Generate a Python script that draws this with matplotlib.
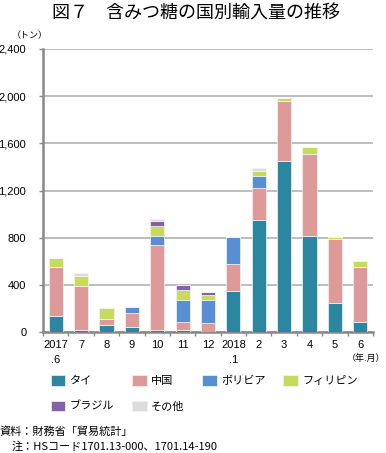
import matplotlib
matplotlib.use("Agg")
import matplotlib.pyplot as plt
import numpy as np

plt.rcParams['font.family'] = ['Noto Sans CJK JP', 'DejaVu Sans']

months = ["2017\n.6", "7", "8", "9", "10", "11", "12", "2018\n.1", "2", "3", "4", "5", "6"]
series_names = ["タイ", "中国", "ボリビア", "フィリピン", "ブラジル", "その他"]
thai        = [135, 20, 58, 42, 20, 20, 0, 348, 950, 1450, 814, 246, 85]
china       = [415, 372, 55, 116, 718, 62, 74, 232, 274, 509, 696, 540, 469]
bolivia     = [0, 0, 0, 54, 76, 187, 195, 229, 102, 0, 0, 0, 0]
philippines = [75, 85, 88, 0, 88, 90, 45, 0, 37, 26, 57, 17, 51]
brazil      = [0, 0, 0, 0, 37, 39, 22, 0, 0, 0, 0, 0, 0]
others      = [0, 20, 0, 0, 17, 0, 0, 0, 25, 0, 0, 0, 0]
yticks = [0, 400, 800, 1200, 1600, 2000, 2400]
ytick_labels = ["0", "400", "800", "1,200", "1,600", "2,000", "2,400"]

colors = ["#2B87A0", "#DD9A99", "#5A8ED2", "#C6DA5E", "#8462AB", "#DCDCDC"]

fig = plt.figure(figsize=(3.86, 4.53), dpi=100)
ax = fig.add_axes([43/386, 1-332/453, 330/386, 283/453])

data = [thai, china, bolivia, philippines, brazil, others]
x = np.arange(len(months))
bottom = np.zeros(len(months))
handles = []
for name, vals, c in zip(series_names, data, colors):
    vals = np.array(vals, dtype=float)
    b = ax.bar(x, vals, width=0.56, bottom=bottom, color=c, edgecolor="#f4f4f4",
               linewidth=0.5, label=name, zorder=3)
    handles.append(b)
    bottom += vals

ax.set_xlim(-0.5, len(months) - 0.5)
ax.set_ylim(0, 2400)
ax.set_yticks(yticks)
ax.set_yticklabels(ytick_labels, family=['Liberation Sans', 'DejaVu Sans'], fontsize=8)
ax.yaxis.grid(True, color="#BDBDBD", linewidth=1.4, zorder=0)
ax.set_axisbelow(True)

ax.set_xticks(x)
ax.set_xticklabels(months, family=['Liberation Sans', 'DejaVu Sans'], fontsize=8,
                   linespacing=1.6, va='top')
ax.set_xticks(np.arange(-0.5, len(months)), minor=True)
ax.tick_params(axis='x', which='major', length=0, pad=6)
ax.tick_params(axis='x', which='minor', length=3, width=1, color="#888888", direction='out')
ax.tick_params(axis='y', length=3, width=1, color="#888888", pad=9)

for s in ["top", "right"]:
    ax.spines[s].set_visible(False)
for s in ["left", "bottom"]:
    ax.spines[s].set_color("#888888")
    ax.spines[s].set_linewidth(1.8)

fig.text(196/386, 1-14/453, "図７　含みつ糖の国別輸入量の推移", ha='center', va='center',
         fontsize=13)
fig.text(30/386, 1-36/453, "（トン）", ha='center', va='center', fontsize=6.5)
fig.text(385/386, 1-358/453, "（年.月）", ha='right', va='center', fontsize=6.5)

order = [0, 4, 1, 5, 2, 3]
leg = fig.legend(handles=[handles[i] for i in order], labels=[series_names[i] for i in order],
                 ncol=4, loc='upper left', bbox_to_anchor=(51/386, 1-375/453),
                 frameon=False, fontsize=8, handlelength=1.3, handleheight=1.1,
                 handletextpad=0.4, columnspacing=1.6, labelspacing=1.3,
                 borderaxespad=0, borderpad=0)

fig.text(0/386, 1-432/453, "資料：財務省「貿易統計」", ha='left', va='center', fontsize=8)
fig.text(12/386, 1-447/453, "注：HSコード1701.13-000、1701.14-190", ha='left', va='center', fontsize=8)

fig.savefig("out.png", dpi=100)
